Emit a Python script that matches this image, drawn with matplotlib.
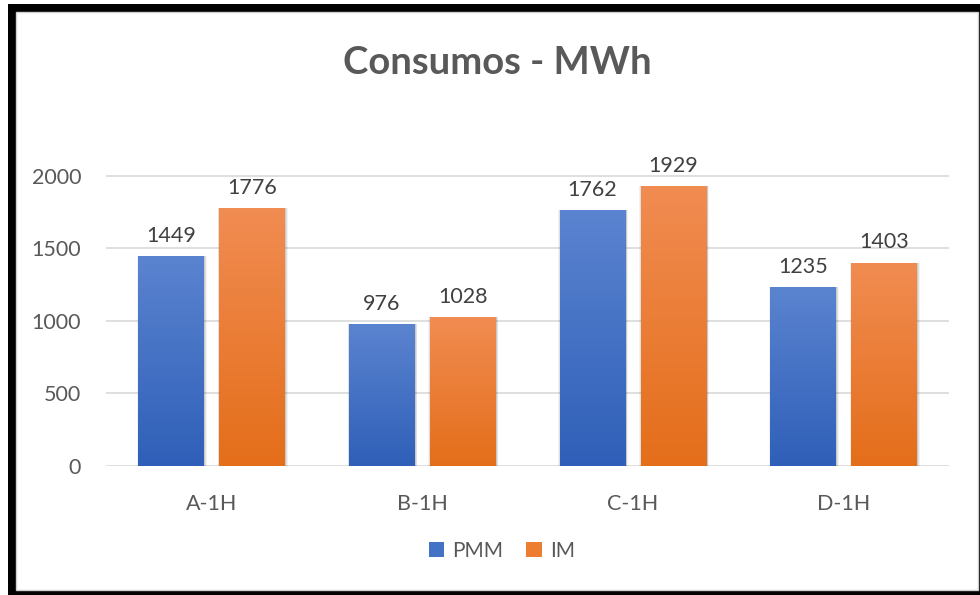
import numpy as np
import matplotlib
matplotlib.use("Agg")
import matplotlib.pyplot as plt
from matplotlib.patches import Rectangle
from matplotlib.colors import LinearSegmentedColormap

categories = ["A-1H", "B-1H", "C-1H", "D-1H"]
pmm = [1449, 976, 1762, 1235]
im = [1776, 1028, 1929, 1403]
series_names = ["PMM", "IM"]
y_ticks = [0, 500, 1000, 1500, 2000]

plt.rcParams["font.family"] = ["Lato", "DejaVu Sans"]

fig = plt.figure(figsize=(9.8, 5.95), dpi=100)

# frame around the chart area
fig.patches.append(Rectangle((8 / 980, 0), 972 / 980, 591 / 595,
                             transform=fig.transFigure, facecolor="black",
                             edgecolor="none", zorder=-10))
fig.patches.append(Rectangle((16 / 980, 5 / 595), 962 / 980, 578 / 595,
                             transform=fig.transFigure, facecolor="white",
                             edgecolor="#d0d0d0", linewidth=1.0, zorder=-9))

ax = fig.add_axes([106 / 980, 0.2168, 843 / 980, 0.6094])
ax.set_xlim(-0.5, len(categories) - 0.5)
ax.set_ylim(0, 2500)
for s in ax.spines.values():
    s.set_visible(False)
ax.set_facecolor("none")

for t in y_ticks:
    ax.axhline(t, color="#d9d9d9", linewidth=1.2, zorder=0)

x = np.arange(len(categories))
width = 0.31
offset = 0.192

blue_cmap = LinearSegmentedColormap.from_list("b", ["#2f5fb8", "#5b84d0"])
orange_cmap = LinearSegmentedColormap.from_list("o", ["#e46e1a", "#f18c52"])
grad = np.linspace(0, 1, 256).reshape(-1, 1)

def draw_series(xs, vals, cmap):
    bars = ax.bar(xs, vals, width, color="none", zorder=2)
    for b in bars:
        x0, w, h = b.get_x(), b.get_width(), b.get_height()
        # soft shadow
        for k, a in zip([0.018, 0.012, 0.006], [0.05, 0.07, 0.10]):
            ax.add_patch(Rectangle((x0 - k * 0.6 + 0.004, -k * 250),
                                   w + 2 * k * 0.6, h + k * 250,
                                   facecolor="black", alpha=a,
                                   edgecolor="none", zorder=1))
        im_ = ax.imshow(grad, cmap=cmap, origin="lower", aspect="auto",
                        extent=[x0, x0 + w, 0, h], zorder=2)
        im_.set_clip_path(b)
        ax.text(x0 + w / 2, h + 70, f"{h:.0f}", ha="center", va="bottom",
                fontsize=15.5, color="#404040", zorder=3)
    return bars

draw_series(x - offset, pmm, blue_cmap)
draw_series(x + offset, im, orange_cmap)
ax.set_xlim(-0.5, len(categories) - 0.5)
ax.set_ylim(0, 2500)

ax.set_yticks(y_ticks)
ax.set_xticks(x)
ax.set_xticklabels(categories)
ax.tick_params(axis="both", length=0, labelsize=15.5, labelcolor="#595959")
ax.tick_params(axis="y", pad=18)
ax.tick_params(axis="x", pad=20)

fig.text(497 / 980, 1 - 63 / 595, "Consumos - MWh", ha="center", va="center",
         fontsize=27.5, fontweight="bold", color="#595959")

handles = [Rectangle((0, 0), 1, 1, facecolor="#4472c4"),
           Rectangle((0, 0), 1, 1, facecolor="#ed7d31")]
fig.legend(handles, series_names, loc="center", bbox_to_anchor=(502 / 980, 1 - 551 / 595),
           ncol=2, frameon=False, fontsize=15, labelcolor="#595959",
           handlelength=0.75, handleheight=0.75, handletextpad=0.4, columnspacing=1.1)

fig.savefig("out.png", dpi=100)
